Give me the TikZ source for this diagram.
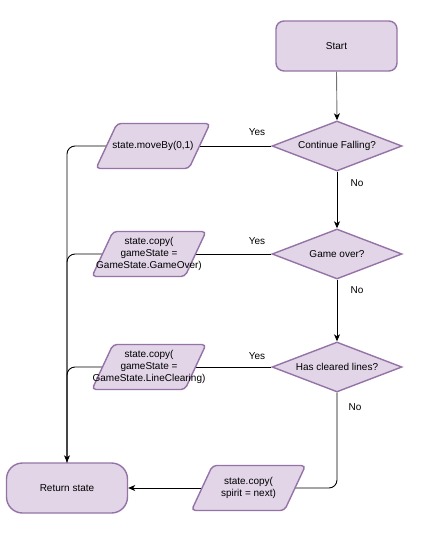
\documentclass[tikz,border=0pt]{standalone}
\usepackage{fontspec}
\setmainfont{Liberation Sans}
\usetikzlibrary{shapes.geometric,arrows.meta}
\definecolor{pfill}{HTML}{E1D5E7}
\definecolor{pdraw}{HTML}{9673A6}
\newcommand\paracoords[3]{% name, cx, cy
  \coordinate (#1e) at (#2+46.5,#3);
  \coordinate (#1w) at (#2-46.5,#3);
}
\newcommand\parabox[4]{% name, cx, cy, text
  \draw[shp,rounded corners=4pt] (#2-57,#3+22.5) -- (#2-36,#3-22.5) -- (#2+57,#3-22.5) -- (#2+36,#3+22.5) -- cycle;
  \node[txt] (#1) at (#2,#3) {#4};
}
\begin{document}
\begin{tikzpicture}[x=1pt,y=-1pt,
  font=\fontsize{10}{12}\selectfont,
  shp/.style={draw=pdraw,fill=pfill,line width=1.4pt},
  txt/.style={align=center,inner sep=0pt},
  term/.style={shp,rounded corners=#1,minimum width=121pt,minimum height=50pt,align=center},
  dec/.style={shp,diamond,minimum width=130pt,minimum height=50pt,inner sep=0pt,aspect=2.6},
  conn/.style={line width=0.9pt},
  arr/.style={conn,-{Stealth[length=7pt,width=6pt,inset=2pt,color=black]}},
  lbl/.style={inner sep=0pt}]
\useasboundingbox (0,0) rectangle (446,546);

\node[term=8pt] (start) at (336.5,46) {Start};
\node[term=16pt] (ret) at (67,488) {Return state};

\node[dec] (d1) at (337,146) {Continue Falling?};
\node[dec] (d2) at (337,254) {Game over?};
\node[dec] (d3) at (337,367) {Has cleared lines?};

\paracoords{p1}{153}{146}
\paracoords{p2}{149}{254}
\paracoords{p3}{149}{367}
\paracoords{p4}{248.5}{488}

% main spine
\draw[arr,draw=black!55] (start.south) -- (d1.north);
\draw[arr] (d1.south) -- (d2.north);
\draw[arr] (d2.south) -- (d3.north);
\draw[conn,rounded corners=8pt] (d3.south) |- (p4e);
\draw[arr] (p4w) -- (ret.east);

% yes branches
\draw[conn] (d1.west) -- (p1e);
\draw[conn] (d2.west) -- (p2e);
\draw[conn] (d3.west) -- (p3e);
\draw[arr,rounded corners=8pt] (p1w) -| (ret.north);
\draw[conn,rounded corners=8pt] (p2w) -| (ret.north);
\draw[conn,rounded corners=8pt] (p3w) -| (ret.north);

% parallelograms over the connectors
\parabox{p1}{153}{146}{state.moveBy(0,1)}
\parabox{p2}{149}{254}{state.copy(\\gameState =\\GameState.GameOver)}
\parabox{p3}{149}{367}{state.copy(\\gameState =\\GameState.LineClearing)}
\parabox{p4}{248.5}{488}{state.copy(\\spirit = next)}

% labels
\node[lbl] (y1) at (257,132) {Yes};
\node[lbl] (n1) at (357,183) {No};
\node[lbl] (y2) at (257,241) {Yes};
\node[lbl] (n2) at (357,290) {No};
\node[lbl] (y3) at (257,356) {Yes};
\node[lbl] (n3) at (355,407) {No};
\end{tikzpicture}
\end{document}
